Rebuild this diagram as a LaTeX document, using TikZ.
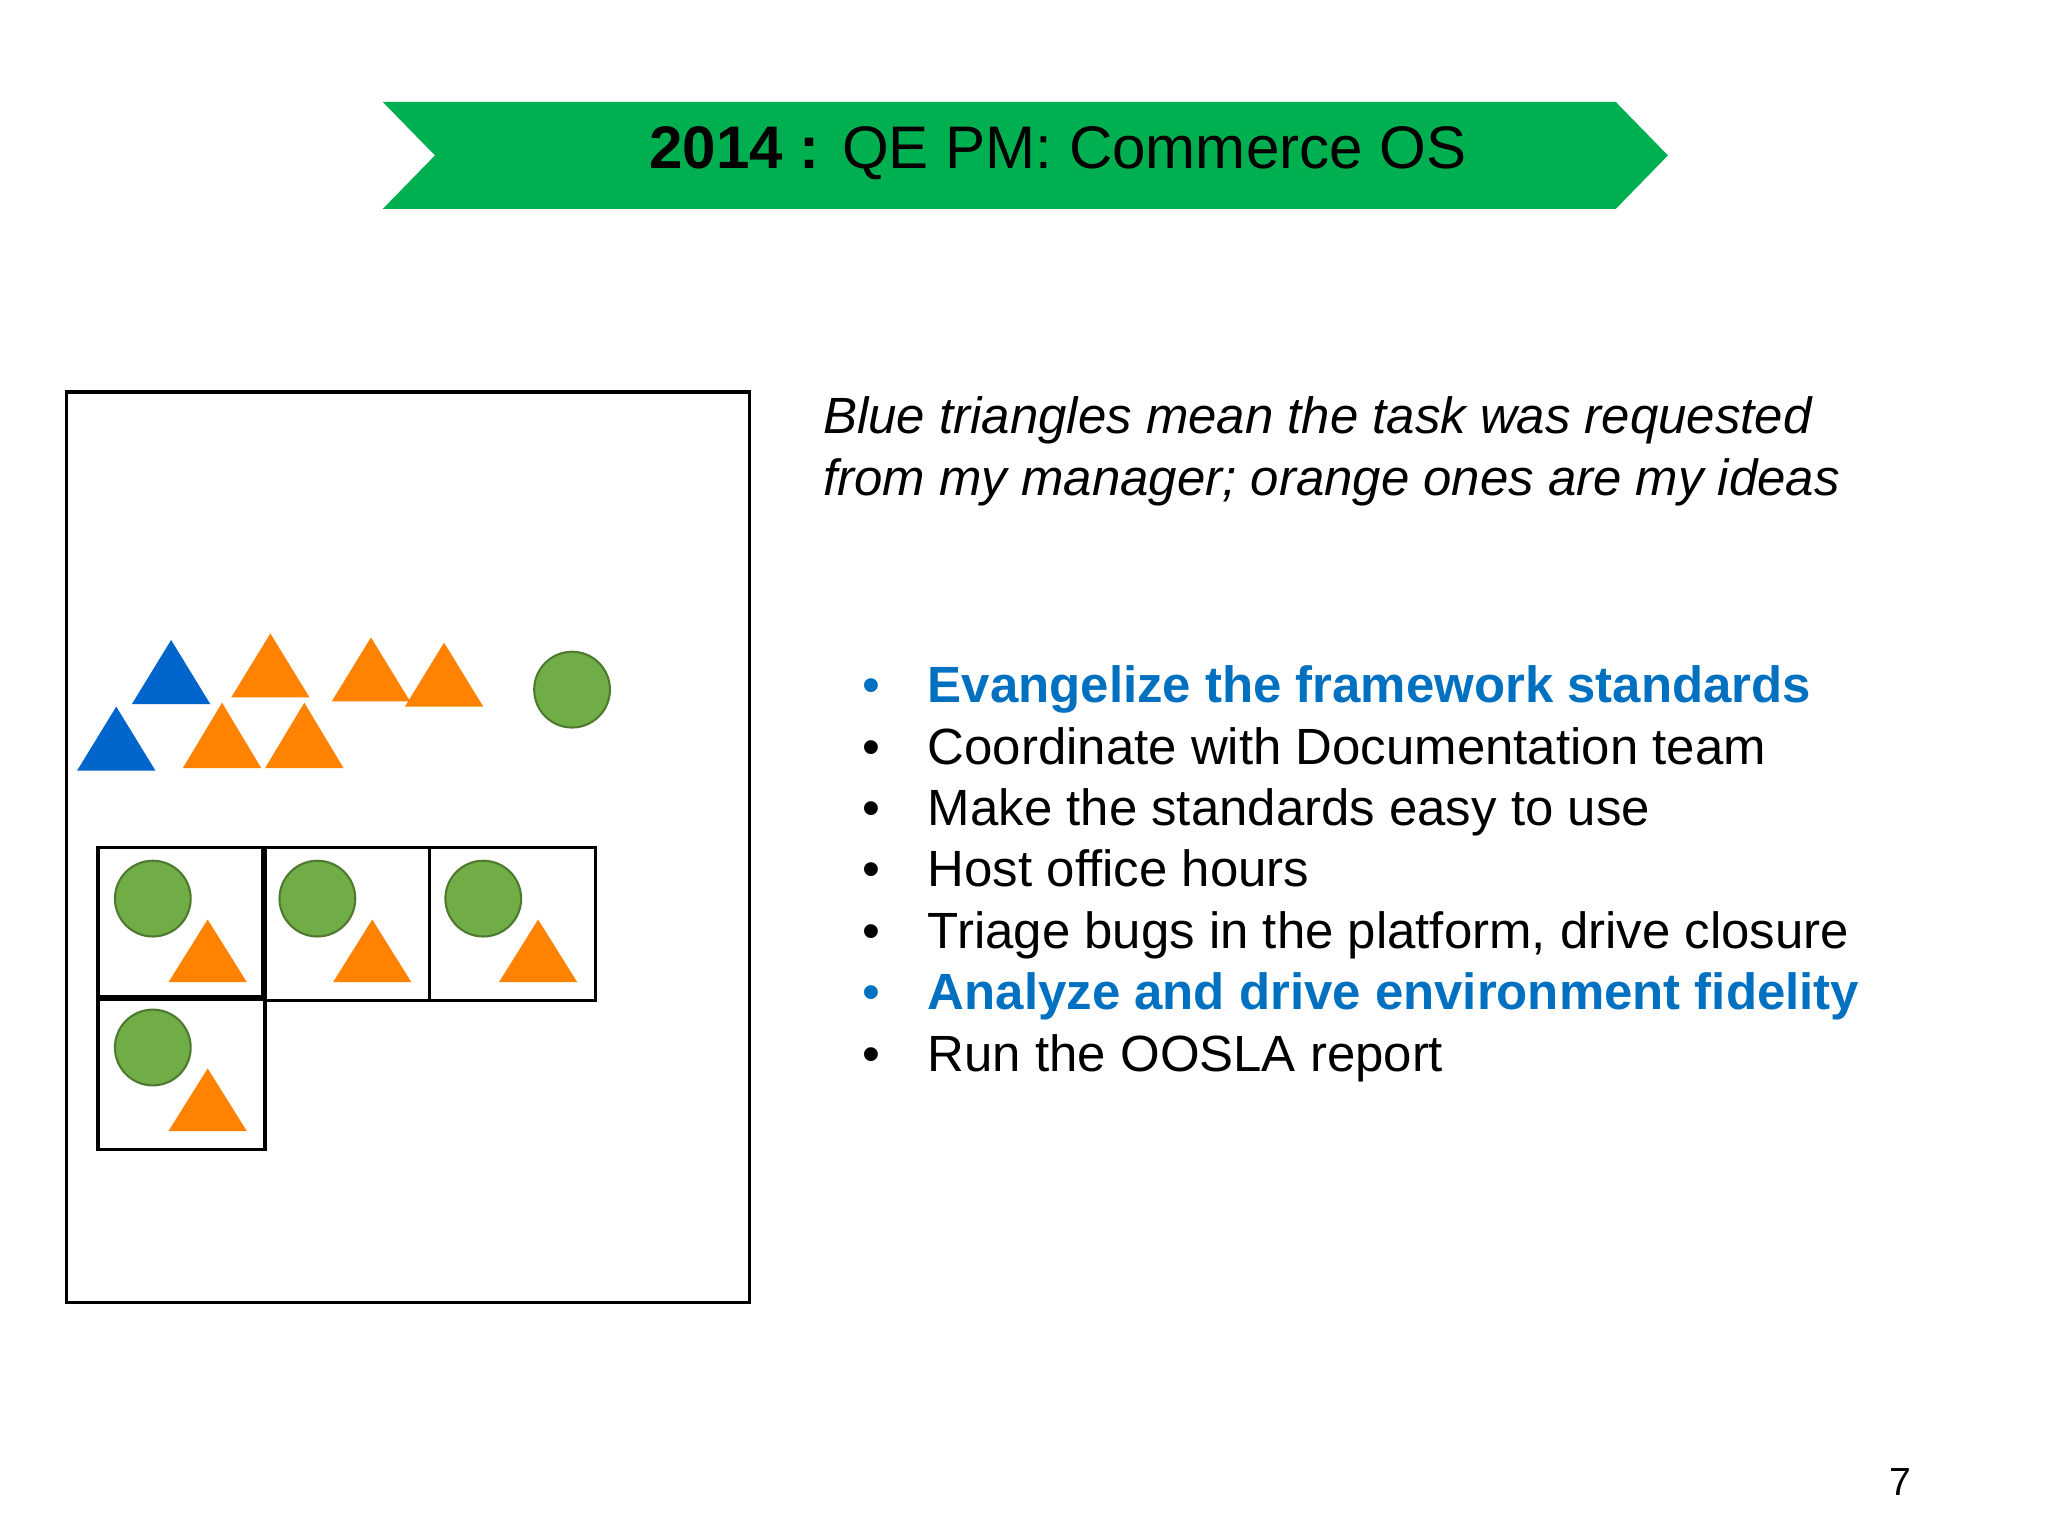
\documentclass[tikz,border=0pt]{standalone}
\usepackage{fontspec}
\setmainfont{Liberation Sans}
\begin{document}
\begin{tikzpicture}[x=0.5pt,y=-0.5pt,
  tri/.style={line width=0.4pt},
  circ/.style={fill=cgreen,draw=cgreenD,line width=0.8pt},
  box/.style={draw=black,line width=1.3pt},
  txt/.style={anchor=base west,font=\fontsize{19.5}{23}\selectfont,inner sep=0}]
\definecolor{banner}{HTML}{00B050}
\definecolor{cblue}{HTML}{0066CC}
\definecolor{tblue}{HTML}{0070C0}
\definecolor{corange}{HTML}{FF8200}
\definecolor{cgreen}{HTML}{70AD47}
\definecolor{cgreenD}{HTML}{4E7A30}
\useasboundingbox (0,0) rectangle (1568,1176);
\fill[white] (0,0) rectangle (1568,1176);
\fill[banner] (293,78) -- (1237,78) -- (1277,119) -- (1237,160) -- (293,160) -- (333,119) -- cycle;
\node[font=\fontsize{23}{27}\selectfont] (title) at (810,117) {\textbf{2014 :} QE PM: Commerce OS};
\draw[box] (51,300) rectangle (574,997);
\newcommand{\mytri}[4]{\fill[#4] (#1,#2) -- (#1+30,#3) -- (#1-30,#3) -- cycle;}
\mytri{131}{490}{539}{cblue}
\mytri{89}{541}{590}{cblue}
\mytri{207}{485}{534}{corange}
\mytri{284}{488}{537}{corange}
\mytri{340}{492}{541}{corange}
\mytri{170}{538}{588}{corange}
\mytri{233}{538}{588}{corange}
\draw[circ] (438,528) circle (29);
\draw[box] (75,649) rectangle (201,763);
\draw[box] (203,649) rectangle (329,766);
\draw[box] (329,649) rectangle (456,766);
\draw[box] (75,765) rectangle (203,880);
\draw[circ] (117,688) circle (29);
\draw[circ] (243,688) circle (29);
\draw[circ] (370,688) circle (29);
\draw[circ] (117,802) circle (29);
\mytri{159}{704}{752}{corange}
\mytri{285}{704}{752}{corange}
\mytri{412}{704}{752}{corange}
\mytri{159}{818}{866}{corange}
\node[txt,font=\fontsize{19.5}{23}\selectfont\itshape] (i1) at (630,332) {Blue triangles mean the task was requested};
\node[txt,font=\fontsize{19.5}{23}\selectfont\itshape] (i2) at (630,379) {from my manager; orange ones are my ideas};
\node[txt,text=tblue] (b1) at (660,538) {•};
\node[txt,text=tblue,font=\fontsize{19.5}{23}\selectfont\bfseries] (t1) at (710,538) {Evangelize the framework standards};
\node[txt] (b2) at (660,585) {•};
\node[txt] (t2) at (710,585) {Coordinate with Documentation team};
\node[txt] (b3) at (660,632) {•};
\node[txt] (t3) at (710,632) {Make the standards easy to use};
\node[txt] (b4) at (660,679) {•};
\node[txt] (t4) at (710,679) {Host office hours};
\node[txt] (b5) at (660,726) {•};
\node[txt] (t5) at (710,726) {Triage bugs in the platform, drive closure};
\node[txt,text=tblue] (b6) at (660,773) {•};
\node[txt,text=tblue,font=\fontsize{19.5}{23}\selectfont\bfseries] (t6) at (710,773) {Analyze and drive environment fidelity};
\node[txt] (b7) at (660,820) {•};
\node[txt] (t7) at (710,820) {Run the OOSLA report};
\node[anchor=base,font=\fontsize{15}{18}\selectfont,inner sep=0] (pg) at (1455,1145) {7};
\end{tikzpicture}
\end{document}
